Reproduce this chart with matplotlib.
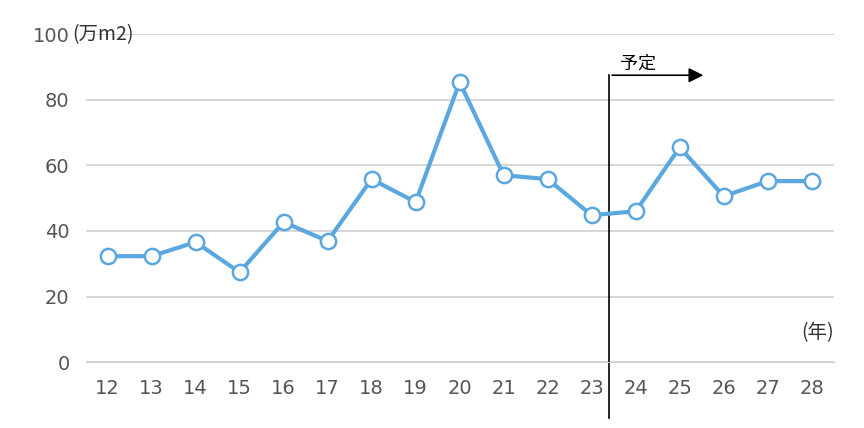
import matplotlib
matplotlib.use("Agg")
import matplotlib.pyplot as plt

plt.rcParams['font.family'] = ['DejaVu Sans', 'Noto Sans CJK JP']

years = [12, 13, 14, 15, 16, 17, 18, 19, 20, 21, 22, 23, 24, 25, 26, 27, 28]
values = [32.3, 32.3, 36.6, 27.4, 42.7, 36.9, 55.8, 48.8, 85.4, 57.0, 55.8, 44.8, 46.0, 65.5, 50.6, 55.2, 55.2]

fig = plt.figure(figsize=(8.64, 4.28), dpi=100)
ax = fig.add_axes([0.1, 0.154, 0.865, 0.766])

ax.plot(years, values, color='#5BA7E0', linewidth=3, marker='o', markersize=11,
        markerfacecolor='white', markeredgecolor='#5BA7E0', markeredgewidth=1.8, zorder=3)

ax.set_xlim(11.52, 28.5)
ax.set_ylim(0, 100)
ax.set_yticks(range(0, 101, 20))
ax.set_xticks(years)
ax.grid(axis='y', color='#d0d0d0', linewidth=1.2)
for s in ['left', 'right', 'top']:
    ax.spines[s].set_visible(False)
ax.spines['bottom'].set_color('#d0d0d0')
ax.tick_params(length=0, labelsize=14, colors='#555555', pad=12)
ax.set_axisbelow(True)

# forecast marker
ax.plot([23.4, 23.4], [-17, 87.5], color='black', linewidth=1.2, clip_on=False)
ax.annotate('', xy=(25.6, 87.5), xytext=(23.4, 87.5),
            arrowprops=dict(arrowstyle='-|>', color='black', lw=1.2, mutation_scale=22))
ax.text(23.65, 89.5, '予定', fontsize=13, color='black', family=['Noto Sans CJK JP'])

ax.text(11.2, 100, '(万m2)', fontsize=14, color='#333333', va='center',
        family=['Noto Sans CJK JP', 'DejaVu Sans'])
ax.text(28.5, 9, '(年)', fontsize=14, color='#333333', ha='right', va='center',
        family=['Noto Sans CJK JP', 'DejaVu Sans'])

fig.savefig('out.png', dpi=100)
